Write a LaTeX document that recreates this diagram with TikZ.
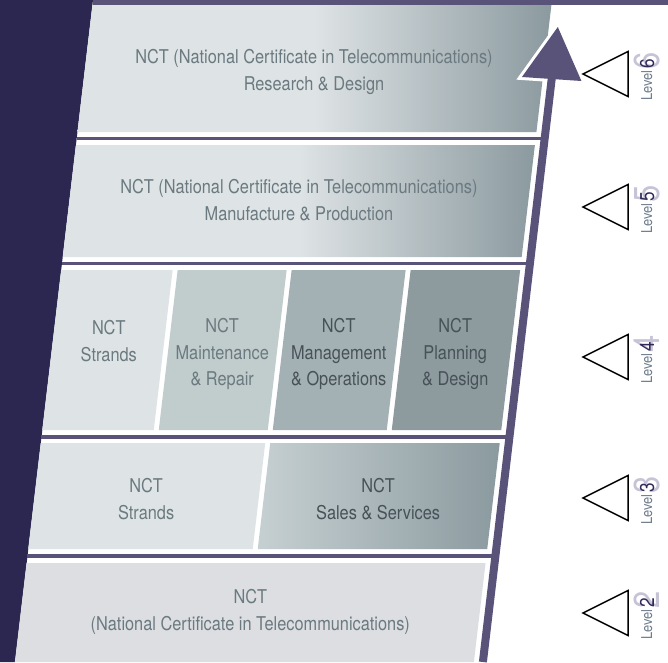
\documentclass[tikz,border=0pt]{standalone}
\usepackage{fontspec}
\setmainfont[FakeStretch=0.86]{TeX Gyre Heros}
\definecolor{navy}{HTML}{2C2750}
\definecolor{bar}{HTML}{59537A}
\definecolor{pale}{HTML}{DEE3E5}
\definecolor{steel}{HTML}{8B9A9F}
\definecolor{bandtwo}{HTML}{DCDEE2}
\definecolor{maint}{HTML}{C1CCCD}
\definecolor{manag}{HTML}{A4B1B4}
\definecolor{plann}{HTML}{8D9A9E}
\definecolor{salesl}{HTML}{C6D0D2}
\definecolor{txt}{HTML}{6B7A80}
\definecolor{txtdark}{HTML}{475258}
\definecolor{lvl}{HTML}{6E7C8C}
\definecolor{ghost}{HTML}{C6C3D7}
\definecolor{digit}{HTML}{2F2A57}

\begin{document}
\begin{tikzpicture}[x=1pt, y=-1pt,
	lbl/.style={text=txt, font=\fontsize{19}{26.5}\selectfont, align=center, inner sep=0pt},
	lbldark/.style={lbl, text=txtdark},
	lvltext/.style={text=lvl, font=\fontsize{15}{18}\selectfont, inner sep=0pt, rotate=90, anchor=base west},
	ghostnum/.style={text=ghost, font=\fontsize{36}{38}\selectfont, inner sep=0pt, rotate=90, anchor=base west},
	darknum/.style={text=digit, font=\fontsize{20}{22}\selectfont, inner sep=0pt, rotate=90, anchor=base west},
	tilted/.style={xslant=0.118}]
	\useasboundingbox (0,0) rectangle (668,662);
	% backdrop
	\fill[navy] (0,0) -- (93,0) -- (15,662) -- (0,662) -- cycle;
	\fill[bar] (93,0) rectangle (668,5);
	\begin{scope}[tilted]
		% levels 6 and 5
		\shade[left color=pale, right color=steel, middle color=pale] (93,5) rectangle (552,132);
		\shade[left color=pale, right color=steel, middle color=pale] (93,145) rectangle (552,257);
		% level 4
		\fill[pale] (93,270) rectangle (204.5,430);
		\fill[maint] (209.5,270) rectangle (318.5,430);
		\fill[manag] (323.5,270) rectangle (437.5,430);
		\fill[plann] (442.5,270) rectangle (552,430);
		% level 3
		\fill[pale] (93,443) rectangle (317.5,549);
		\shade[left color=salesl, right color=steel] (322.5,443) rectangle (552,549);
		% level 2
		\fill[bandtwo] (93,563) rectangle (552,662);
		\foreach \y in {138.5,263.5,437,556} {
			\draw[bar, line width=3.5] (93,\y) -- (561,\y);
		}
		% arrow
		\draw[white, line width=6, line join=miter] (561,27) -- (591,81) -- (531,77) -- cycle;
		\draw[bar, line width=8] (561,662) -- (561,70);
		\fill[bar] (561,27) -- (591,81) -- (531,77) -- cycle;
		% texts
		\node[lbl] (nct6) at (322.5,72) {NCT (National Certificate in Telecommunications)\\Research \& Design};
		\node[lbl] (nct5) at (322.5,200) {NCT (National Certificate in Telecommunications)\\Manufacture \& Production};
		\node[lbl] (str4) at (149,341) {NCT\\Strands};
		\node[lbl] (mnt4) at (264,354) {NCT\\Maintenance\\\& Repair};
		\node[lbldark] (mgt4) at (380.5,354) {NCT\\Management\\\& Operations};
		\node[lbldark] (pln4) at (497,354) {NCT\\Planning\\\& Design};
		\node[lbl] (str3) at (205,499) {NCT\\Strands};
		\node[lbldark] (sal3) at (437,499) {NCT\\Sales \& Services};
		\node[lbl] (nct2) at (322.5,612) {NCT\\(National Certificate in Telecommunications)};
	\end{scope}
	% level marks
	\foreach \c/\n in {74/6,207/5,357/4,498/3,613/2} {
		\draw[line width=1.5, line join=miter] (583,\c) -- (628,\c-22.5) -- (628,\c+22.5) -- cycle;
		\node[lvltext] (lev\n) at (652,\c+27) {Level};
		\node[ghostnum] (gh\n) at ([xshift=7pt, yshift=1pt]lev\n.base east) {\n};
		\node[darknum] (num\n) at ([xshift=2pt, yshift=2pt]lev\n.base east) {\n};
	}
\end{tikzpicture}
\end{document}
